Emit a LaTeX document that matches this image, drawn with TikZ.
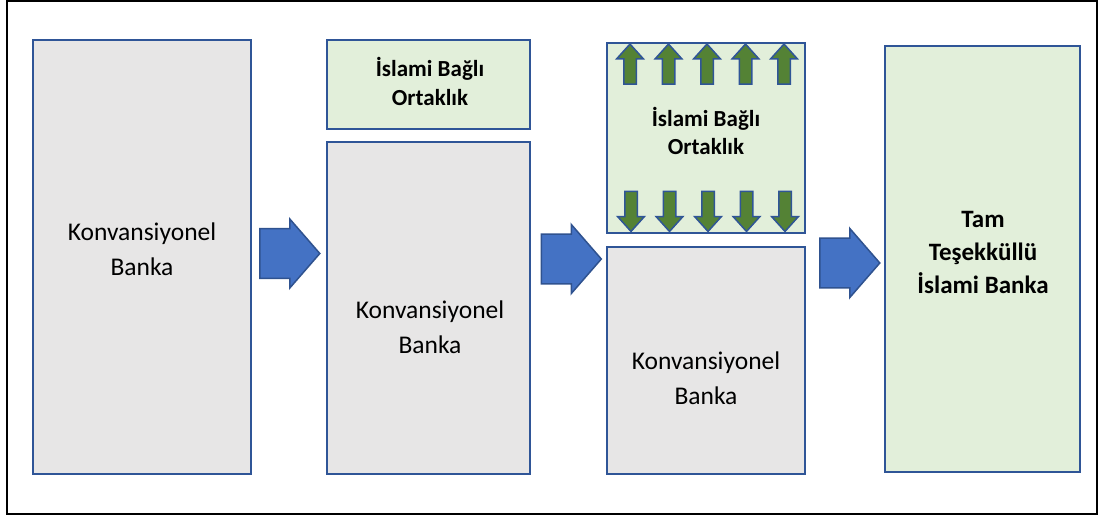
\documentclass[tikz,border=0pt]{standalone}
\usepackage{fontspec}
\setmainfont{Carlito}
\usepackage{xcolor}
\usetikzlibrary{shapes.arrows}

\begin{document}
\begin{tikzpicture}[x=1pt,y=-1pt,
  box/.style={draw=edge,line width=2,inner sep=0},
  txt/.style={align=center,font=\fontsize{25.5}{35}\selectfont},
  btxt/.style={align=center,font=\bfseries\fontsize{23}{29}\selectfont},
  bigarrow/.style={single arrow,draw=arrowedge,fill=arrowblue,line width=1.5,
    inner sep=17.5,minimum height=60,minimum width=69,single arrow tip angle=98},
  smallarrow/.style={single arrow,draw=edge,fill=leaf,line width=1.5,
    inner sep=5.5,minimum height=40,minimum width=25,single arrow tip angle=84}]
\definecolor{edge}{HTML}{2F5597}
\definecolor{arrowedge}{HTML}{2F528F}
\definecolor{arrowblue}{HTML}{4472C4}
\definecolor{paper}{HTML}{E7E6E6}
\definecolor{mint}{HTML}{E2EFDA}
\definecolor{leaf}{HTML}{548235}
\useasboundingbox (0,0) rectangle (1099,518);
\draw [line width=2] (7,1) rectangle (1096.5,514);
% boxes
\node [box,fill=paper,minimum width=218,minimum height=434] (bank1) at (142,257) {};
\node [box,fill=mint,minimum width=203,minimum height=89] (sub2) at (428.5,84.5) {};
\node [box,fill=paper,minimum width=203,minimum height=332] (bank2) at (428.5,308) {};
\node [box,fill=mint,minimum width=198,minimum height=190] (sub3) at (706,138) {};
\node [box,fill=paper,minimum width=198,minimum height=227] (bank3) at (706,360.5) {};
\node [box,fill=mint,minimum width=195,minimum height=426] (full4) at (982.5,259) {};
% texts
\node [txt] (bank1txt) at (142,249) {Konvansiyonel\\Banka};
\node [btxt] (sub2txt) at (430,81) {İslami Bağlı\\Ortaklık};
\node [txt] (bank2txt) at (430,327) {Konvansiyonel\\Banka};
\node [btxt,font=\bfseries\fontsize{23}{28}\selectfont] (sub3txt) at (706,131) {İslami Bağlı\\Ortaklık};
\node [txt] (bank3txt) at (706,378) {Konvansiyonel\\Banka};
\node [btxt,font=\bfseries\fontsize{25}{33}\selectfont] (full4txt) at (983,252) {Tam\\Teşekküllü\\İslami Banka};
% big arrows
\foreach \name/\xc/\yc in {step1/279/253.5,step2/560.5/259,step3/839/263}
  {\node [bigarrow] (\name) at (\xc,\yc) {};}
% small arrows
\foreach \i in {0,...,4}
{ \node [smallarrow,rotate=90] (up\i) at (630+38.5*\i,67.5) {};
  \node [smallarrow,rotate=-90] (down\i) at (631+38.5*\i,208) {};}
\end{tikzpicture}
\end{document}
